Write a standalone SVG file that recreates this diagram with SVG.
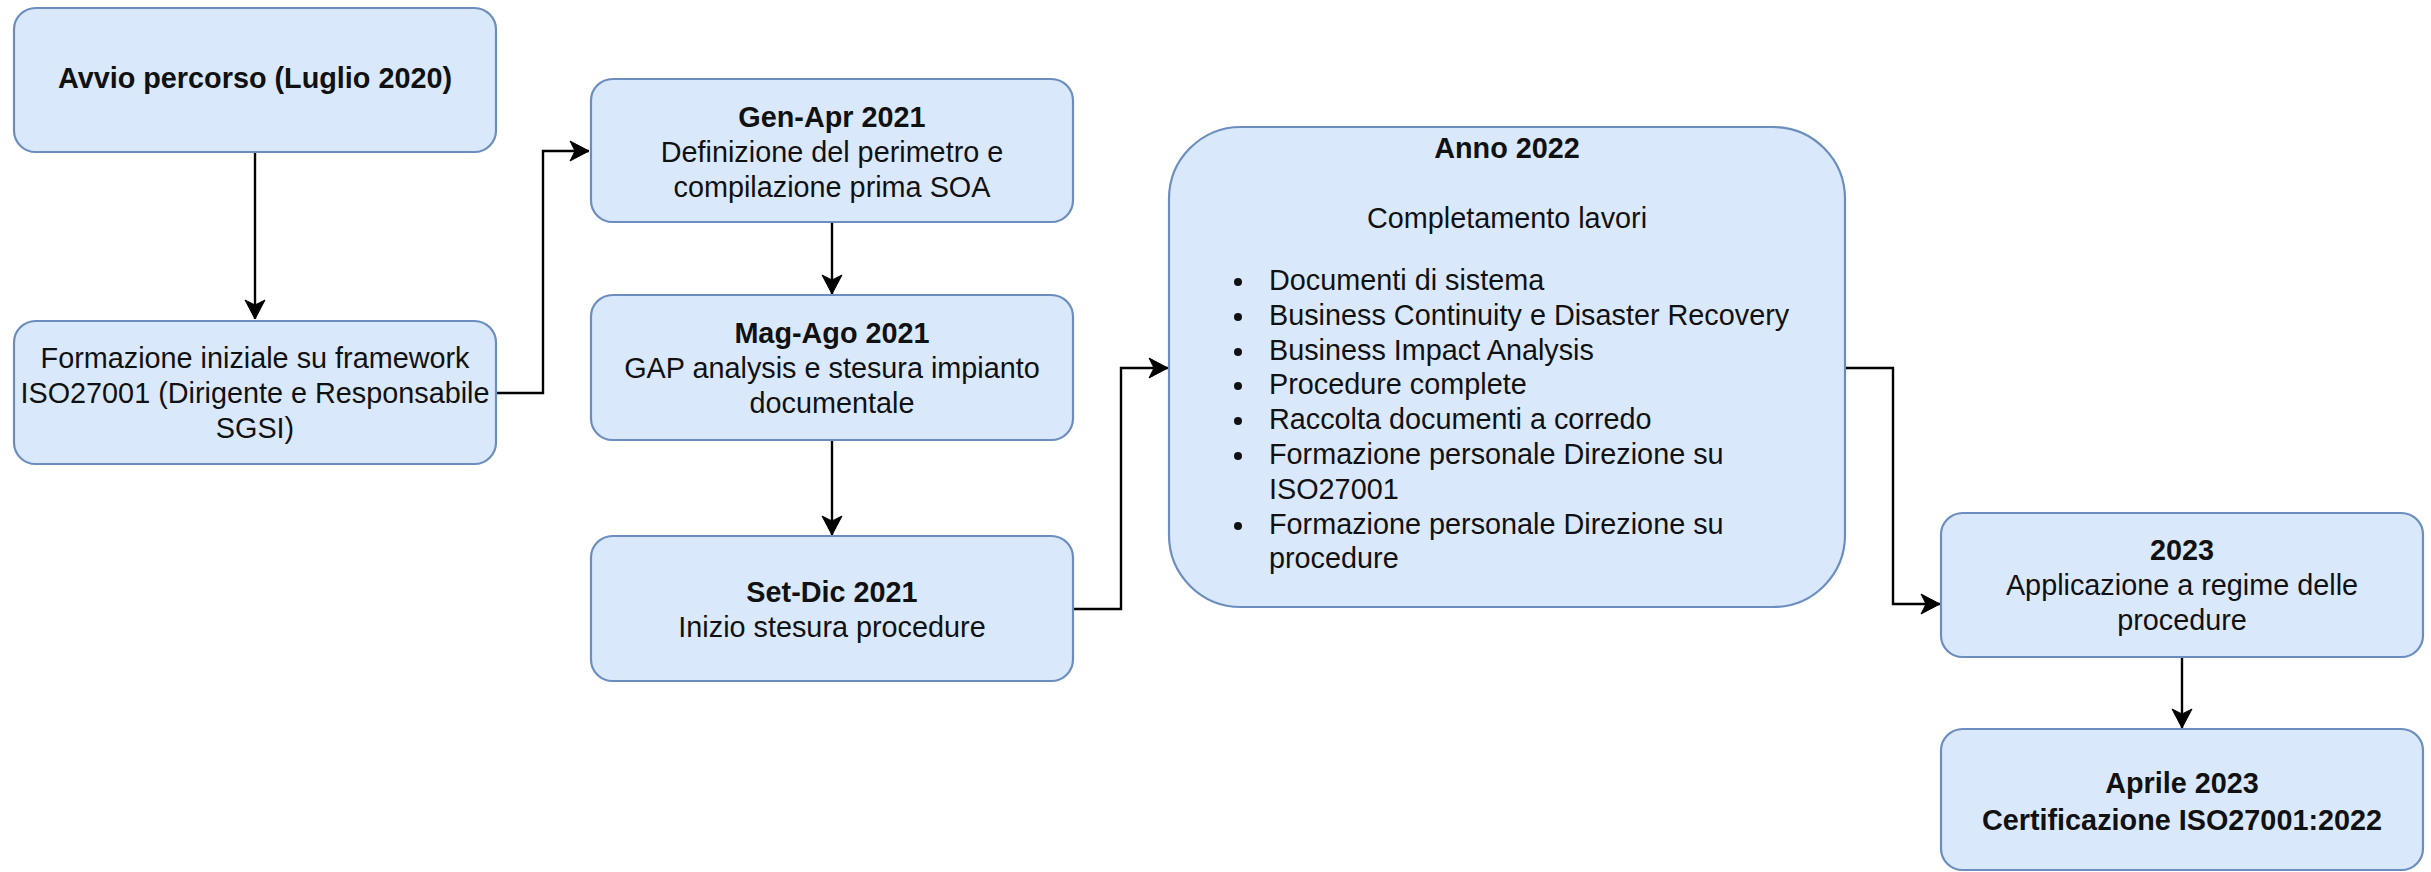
<svg xmlns="http://www.w3.org/2000/svg" width="2431" height="872" viewBox="0 0 2431 872">
<defs>
<style>
.box{fill:#dae8fc;stroke:#6c8ebf;stroke-width:2.2}
.t{font-family:"Liberation Sans",Arial,sans-serif;font-size:28.8px;fill:#111;text-anchor:middle}
.b{font-weight:bold}
.l{font-family:"Liberation Sans",Arial,sans-serif;font-size:28.8px;fill:#111;text-anchor:start}
.c{fill:none;stroke:#000;stroke-width:2.4;marker-end:url(#arr)}
</style>
<marker id="arr" markerUnits="userSpaceOnUse" viewBox="-20 -11 22 22" refX="0" refY="0" markerWidth="22" markerHeight="22" orient="auto">
<path d="M0,0 L-19,-10 L-14,0 L-19,10 Z" fill="#000" stroke="#000" stroke-width="1"/>
</marker>
</defs>
<rect width="2431" height="872" fill="#fff"/>
<g id="connectors">
<path class="c" d="M255,152 V319"/>
<path class="c" d="M496,393 H543 V151 H589"/>
<path class="c" d="M832,222 V294"/>
<path class="c" d="M832,440 V535"/>
<path class="c" d="M1073,609 H1121 V368 H1168"/>
<path class="c" d="M1845,368 H1893 V604 H1940"/>
<path class="c" d="M2182,657 V728"/>
</g>
<g id="node-avvio">
<rect class="box" x="14" y="8" width="482" height="144" rx="21.6"/>
<text class="t b" x="255" y="88">Avvio percorso (Luglio 2020)</text>
</g>
<g id="node-formazione">
<rect class="box" x="14" y="321" width="482" height="143" rx="21.6"/>
<text class="t" x="255" y="368">Formazione iniziale su framework</text>
<text class="t" x="255" y="403">ISO27001 (Dirigente e Responsabile</text>
<text class="t" x="255" y="438">SGSI)</text>
</g>
<g id="node-genapr">
<rect class="box" x="591" y="79" width="482" height="143" rx="21.6"/>
<text class="t b" x="832" y="127">Gen-Apr 2021</text>
<text class="t" x="832" y="162">Definizione del perimetro e</text>
<text class="t" x="832" y="197">compilazione prima SOA</text>
</g>
<g id="node-magago">
<rect class="box" x="591" y="295" width="482" height="145" rx="21.6"/>
<text class="t b" x="832" y="343">Mag-Ago 2021</text>
<text class="t" x="832" y="378">GAP analysis e stesura impianto</text>
<text class="t" x="832" y="413">documentale</text>
</g>
<g id="node-setdic">
<rect class="box" x="591" y="536" width="482" height="145" rx="21.6"/>
<text class="t b" x="832" y="602">Set-Dic 2021</text>
<text class="t" x="832" y="637">Inizio stesura procedure</text>
</g>
<g id="node-anno2022">
<rect class="box" x="1169" y="127" width="676" height="480" rx="72"/>
<text class="t b" x="1507" y="158">Anno 2022</text>
<text class="t" x="1507" y="228">Completamento lavori</text>
<g fill="#111">
<circle cx="1238" cy="282" r="4"/>
<circle cx="1238" cy="317" r="4"/>
<circle cx="1238" cy="352" r="4"/>
<circle cx="1238" cy="386" r="4"/>
<circle cx="1238" cy="421" r="4"/>
<circle cx="1238" cy="456" r="4"/>
<circle cx="1238" cy="526" r="4"/>
</g>
<text class="l" x="1269" y="290">Documenti di sistema</text>
<text class="l" x="1269" y="325">Business Continuity e Disaster Recovery</text>
<text class="l" x="1269" y="360">Business Impact Analysis</text>
<text class="l" x="1269" y="394">Procedure complete</text>
<text class="l" x="1269" y="429">Raccolta documenti a corredo</text>
<text class="l" x="1269" y="464">Formazione personale Direzione su</text>
<text class="l" x="1269" y="499">ISO27001</text>
<text class="l" x="1269" y="534">Formazione personale Direzione su</text>
<text class="l" x="1269" y="568">procedure</text>
</g>
<g id="node-2023">
<rect class="box" x="1941" y="513" width="482" height="144" rx="21.6"/>
<text class="t b" x="2182" y="560">2023</text>
<text class="t" x="2182" y="595">Applicazione a regime delle</text>
<text class="t" x="2182" y="630">procedure</text>
</g>
<g id="node-aprile2023">
<rect class="box" x="1941" y="729" width="482" height="141" rx="21.6"/>
<text class="t b" x="2182" y="793">Aprile 2023</text>
<text class="t b" x="2182" y="830">Certificazione ISO27001:2022</text>
</g>
</svg>
